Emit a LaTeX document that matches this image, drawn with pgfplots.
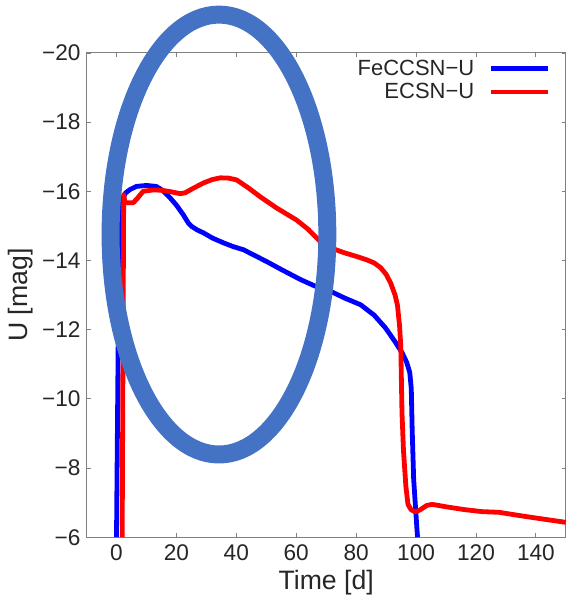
\documentclass[border=0pt]{standalone}
\usepackage{pgfplots}
\pgfplotsset{compat=1.18}
\usepackage{fontspec}
\setmainfont{Liberation Sans}
\definecolor{ellblue}{RGB}{68,114,196}
\definecolor{axgray}{RGB}{128,128,128}
\begin{document}
\begin{tikzpicture}
\begin{axis}[
  scale only axis,
  width=360pt, height=363.75pt,
  xmin=-10, xmax=150,
  ymin=-20, ymax=-6,
  y dir=reverse,
  clip=false,
  axis line style={axgray, line width=0.75pt},
  tick style={axgray, line width=0.6pt},
  major tick length=3pt,
  tick align=inside,
  xtick={0,20,40,60,80,100,120,140},
  ytick={-20,-18,-16,-14,-12,-10,-8,-6},
  yticklabels={−20,−18,−16,−14,−12,−10,−8,−6},
  /pgf/number format/assume math mode=true,
  ticklabel style={font=\fontsize{17}{20}\selectfont, text=black!85},
  yticklabel style={inner sep=0pt, xshift=-4.3pt},
  xticklabel style={inner sep=0pt, yshift=-5.25pt},
  xlabel={Time [d]},
  ylabel={U [mag]},
  xlabel style={font=\fontsize{20}{24}\selectfont, text=black!85, at={(axis description cs:0.5,-0.107)}, anchor=base},
  ylabel style={font=\fontsize{20}{24}\selectfont, text=black!85, at={(axis description cs:-0.137,0.5)}, anchor=center},
  legend plot pos=right,
  legend cell align=right,
  legend image code/.code={\draw[#1] (0pt,0pt) -- (43pt,0pt);},
  legend style={at={(rel axis cs:0.968,0.99)}, anchor=north east, draw=none, fill=none,
    inner sep=0pt, font=\fontsize{16.5}{19}\selectfont, text=black!85,
    row sep=1.5pt, column sep=9pt, nodes={inner sep=1.5pt}},
]
\coordinate (sw) at (rel axis cs:0,0);
\coordinate (ne) at (rel axis cs:1,1);
\addplot[blue, line width=3.6pt, line join=round] coordinates {
(0,-6) (0.3,-9) (0.6,-12) (0.9,-14.5) (1.2,-15.4) (1.8,-15.75) (3,-15.95)
(4.5,-16.05) (6.6,-16.14) (10,-16.17) (13.3,-16.14) (15.5,-16.02) (17.9,-15.81)
(20,-15.6) (22.3,-15.32) (24,-15.08) (25,-14.99) (27,-14.88) (29,-14.8)
(32,-14.65) (35.7,-14.51) (39,-14.4) (42.4,-14.31) (46,-14.15) (50.1,-13.97)
(55,-13.74) (61.4,-13.45) (66,-13.27) (72.4,-13.07) (76,-12.92) (81.5,-12.72)
(86,-12.42) (89.8,-12.05) (93,-11.65) (95.3,-11.34) (96.9,-11.05) (97.9,-10.76)
(98.4,-10.3) (98.7,-9.12) (99.2,-7.67) (100.3,-6.23) (100.5,-6)
};
\addlegendentry{FeCCSN−U}
\addplot[red, line width=3.6pt, line join=round] coordinates {
(1.9,-6) (2.1,-10) (2.3,-14) (2.4,-15.9) (2.8,-15.7) (3.3,-15.67) (5.6,-15.67)
(7,-15.8) (8.9,-16.0) (12.3,-16.04) (15,-16.03) (18,-15.99) (21.3,-15.93)
(23,-15.96) (24.6,-16.04) (27,-16.15) (29,-16.24) (32,-16.34) (34.7,-16.39)
(37.5,-16.38) (40.1,-16.33) (44,-16.1) (48,-15.84) (53.4,-15.52) (60.1,-15.17)
(64,-14.9) (68.1,-14.54) (72,-14.35) (75.8,-14.23) (80,-14.12) (83.5,-14.02)
(86,-13.93) (88.2,-13.79) (90,-13.6) (91.5,-13.35) (93,-13.0) (93.8,-12.7)
(94.5,-12.1) (94.9,-11.51) (95.3,-9.6) (95.8,-8.5) (96.6,-7.47) (97.3,-6.95)
(98.3,-6.8) (99.5,-6.74) (100.3,-6.75) (101.5,-6.8) (103.6,-6.92) (105.4,-6.95)
(110,-6.88) (116,-6.8) (122,-6.74) (127.7,-6.72) (135,-6.62) (142,-6.53) (150,-6.43)
};
\addlegendentry{ECSN−U}
\draw[ellblue, line width=13.5pt] (axis cs:34.2,-14.75) ellipse [x radius=81.4pt, y radius=165.2pt];
\end{axis}
\path ([shift={(-65pt,-45.75pt)}]sw) rectangle ([shift={(7.7pt,39.75pt)}]ne);
\end{tikzpicture}
\end{document}
